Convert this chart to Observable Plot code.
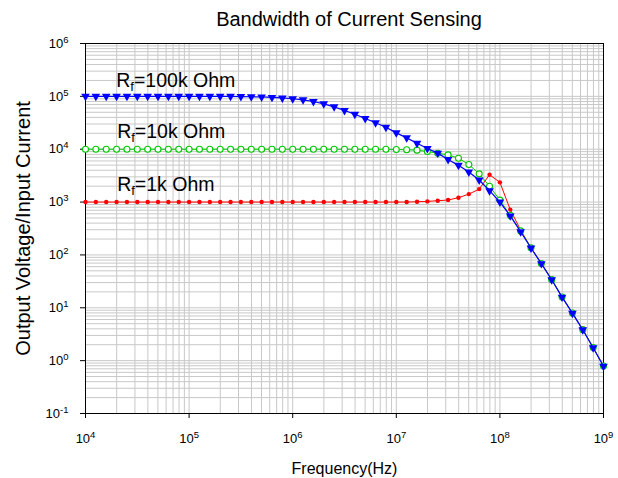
<!DOCTYPE html>
<html>
<head>
<meta charset="utf-8">
<script src="https://cdn.jsdelivr.net/npm/d3@7"></script>
<script src="https://cdn.jsdelivr.net/npm/@observablehq/plot@0.6"></script>
<style>
  body { margin: 0; background: #fff; font-family: Arial, "Liberation Sans", sans-serif; }
  #title { height: 22px; padding-top: 8px; padding-left: 80px; width: 538px; text-align: center;
           font-size: 20px; line-height: 22px; color: #000; }
  #chart svg { display: block; }
</style>
</head>
<body>
<div id="title">Bandwidth of Current Sensing</div>
<div id="chart"></div>
<script>
// Frequencies (Hz) of the sample points
const freqs = [
  1.000e4, 1.259e4, 1.585e4, 1.995e4, 2.512e4, 3.162e4, 3.981e4, 5.012e4, 6.310e4, 7.943e4,
  1.000e5, 1.259e5, 1.585e5, 1.995e5, 2.512e5, 3.162e5, 3.981e5, 5.012e5, 6.310e5, 7.943e5,
  1.000e6, 1.259e6, 1.585e6, 1.995e6, 2.512e6, 3.162e6, 3.981e6, 5.012e6, 6.310e6, 7.943e6,
  1.000e7, 1.259e7, 1.585e7, 1.995e7, 2.512e7, 3.162e7, 3.981e7, 5.012e7, 6.310e7, 7.943e7,
  1.000e8, 1.259e8, 1.585e8, 1.995e8, 2.512e8, 3.162e8, 3.981e8, 5.012e8, 6.310e8, 7.943e8,
  1.000e9
];
// Rf = 100k Ohm
const gain100k = [
  100000, 100000, 100000, 100000, 100000, 100000, 100000, 100000, 100000, 100000,
  100000, 100000, 100000, 100000, 100000, 98900, 98200, 97300, 95700, 93300,
  90200, 86100, 80000, 72300, 63400, 54100, 46000, 38100, 31600, 26000,
  20400, 16400, 13000, 10300, 8430, 6400, 4950, 3690, 2620, 1640,
  1000, 548, 275, 135, 68.5, 33.9, 15.9, 7.9, 3.83, 1.75,
  0.785
];
// Rf = 10k Ohm
const gain10k = [
  10000, 10000, 10000, 10000, 10000, 10000, 10000, 10000, 10000, 10000,
  10000, 10000, 10000, 10000, 10000, 10000, 10000, 10000, 10000, 10000,
  10000, 10000, 10000, 10000, 10000, 10000, 10000, 10000, 10000, 10000,
  9900, 9750, 9600, 9040, 8400, 7800, 6760, 5140, 3420, 1995,
  1090, 560, 285, 136, 68.8, 34.1, 16.0, 7.95, 3.86, 1.77,
  0.79
];
// Rf = 1k Ohm
const gain1k = [
  1000, 1000, 1000, 1000, 1000, 1000, 1000, 1000, 1000, 1000,
  1000, 1000, 1000, 1000, 1000, 1000, 1000, 1000, 1000, 1000,
  1000, 1000, 1000, 1000, 1000, 1000, 1000, 1000, 1000, 1000,
  1000, 1000, 1014, 1030, 1060, 1095, 1210, 1415, 1760, 3290,
  2360, 720, 295, 137, 69, 34.2, 16.0, 7.95, 3.86, 1.77,
  0.79
];
const seriesLabels = ["R_f=100k Ohm", "R_f=10k Ohm", "R_f=1k Ohm"];
const xDecades = [1e4, 1e5, 1e6, 1e7, 1e8, 1e9];
const yDecades = [1e-1, 1e0, 1e1, 1e2, 1e3, 1e4, 1e5, 1e6];
const gridMultipliers = [1, 2, 3, 4, 5, 6, 7, 8, 9];

const gridX = xDecades.slice(0, -1).flatMap(d => gridMultipliers.map(m => m * d)).concat([1e9]);
const gridY = yDecades.slice(0, -1).flatMap(d => gridMultipliers.map(m => m * d)).concat([1e6]);

const toRows = vals => freqs.map((f, i) => ({f, v: vals[i]}));
const r1k = toRows(gain1k), r10k = toRows(gain10k), r100k = toRows(gain100k);
const labelRows = [
  {f: 1.98e4, v: 1.49e5, t: seriesLabels[0]},
  {f: 2.02e4, v: 1.64e4, t: seriesLabels[1]},
  {f: 2.02e4, v: 1.61e3, t: seriesLabels[2]}
];
const expFmt = d => "10^" + Math.round(Math.log10(d));

const svg = Plot.plot({
  width: 618,
  height: 448,
  marginTop: 13,
  marginBottom: 65,
  marginLeft: 85,
  marginRight: 15,
  style: {fontFamily: "Arial, 'Liberation Sans', sans-serif", color: "#000", background: "#fff"},
  x: {type: "log", domain: [1e4, 1e9]},
  y: {type: "log", domain: [1e-1, 1e6]},
  marks: [
    Plot.ruleX(gridX, {stroke: "#c8c8c8", strokeWidth: 1}),
    Plot.ruleY(gridY, {stroke: "#c8c8c8", strokeWidth: 1}),
    Plot.frame({stroke: "#000"}),
    Plot.axisX({ticks: xDecades, tickFormat: expFmt, tickSize: 5, tickPadding: 15, fontSize: 13,
                label: "Frequency(Hz)", labelAnchor: "center", labelOffset: 60, labelArrow: "none"}),
    Plot.axisY({ticks: yDecades, tickFormat: expFmt, tickSize: 5, tickPadding: 12, fontSize: 13,
                label: "Output Voltage/Input Current", labelAnchor: "center", labelOffset: 70, labelArrow: "none"}),
    Plot.line(r1k, {x: "f", y: "v", stroke: "#ff0000", strokeWidth: 1}),
    Plot.dot(r1k, {x: "f", y: "v", fill: "#ff0000", r: 2.2}),
    Plot.line(r10k, {x: "f", y: "v", stroke: "#00c800", strokeWidth: 1}),
    Plot.dot(r10k, {x: "f", y: "v", fill: "#fff", stroke: "#00c800", strokeWidth: 1.1, r: 3}),
    Plot.line(r100k, {x: "f", y: "v", stroke: "#0000ff", strokeWidth: 1.2}),
    Plot.dot(r100k, {x: "f", y: "v", symbol: "triangle", rotate: 180, fill: "#0000ff", r: 3.2}),
    Plot.text(labelRows, {x: "f", y: "v", text: "t", textAnchor: "start", lineAnchor: "bottom", fontSize: 19.5, fill: "#000"})
  ]
});

// Superscript exponents on tick labels, subscript f on annotations, axis label sizes
const NS = "http://www.w3.org/2000/svg";
svg.querySelectorAll("text").forEach(t => {
  const txt = t.textContent;
  let m = txt.match(/^10\^(-?\d+)$/);
  if (m) {
    t.textContent = "10";
    const s = document.createElementNS(NS, "tspan");
    s.setAttribute("dy", "-5");
    s.setAttribute("font-size", "9.5");
    s.textContent = m[1];
    t.appendChild(s);
    return;
  }
  m = txt.match(/^R_f(.*)$/);
  if (m) {
    t.textContent = "R";
    const s1 = document.createElementNS(NS, "tspan");
    s1.setAttribute("dy", "4");
    s1.setAttribute("font-size", "13");
    s1.textContent = "f";
    const s2 = document.createElementNS(NS, "tspan");
    s2.setAttribute("dy", "-4");
    s2.textContent = m[1];
    t.appendChild(s1);
    t.appendChild(s2);
  }
});
const xl = svg.querySelector('g[aria-label="x-axis label"]');
if (xl) xl.setAttribute("font-size", "16");
const yl = svg.querySelector('g[aria-label="y-axis label"]');
if (yl) yl.setAttribute("font-size", "20");

document.getElementById("chart").appendChild(svg);
</script>
</body>
</html>
